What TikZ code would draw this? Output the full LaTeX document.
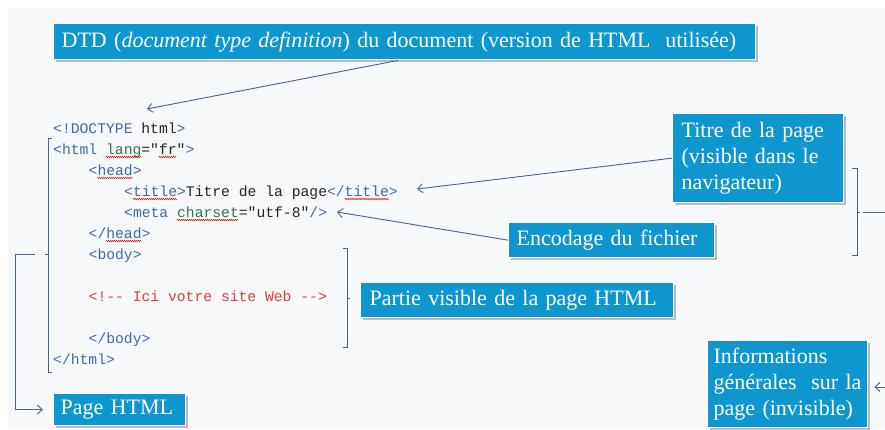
\documentclass[tikz,border=0pt]{standalone}
\usepackage{fontspec}
\setmainfont{Liberation Serif}
\setmonofont{Liberation Mono}
\usetikzlibrary{arrows.meta,shadows,decorations.pathmorphing,calc}
\definecolor{boxblue}{RGB}{14,151,206}
\definecolor{linec}{RGB}{68,100,148}
\definecolor{tagc}{RGB}{62,105,165}
\definecolor{attrc}{RGB}{55,115,85}
\definecolor{txtc}{RGB}{35,35,35}
\definecolor{commc}{RGB}{225,60,60}
\definecolor{bgc}{RGB}{247,248,249}
\newcommand\tg[1]{\textcolor{tagc}{#1}}
\newcommand\atr[1]{\textcolor{attrc}{#1}}
\newcommand\tx[1]{\textcolor{txtc}{#1}}
\newlength\dtdpre
\newlength\dtdword
\begin{document}
\begin{tikzpicture}[x=1pt,y=-1pt,
  bbox/.style={fill=boxblue, draw=white, line width=1.3pt, text=white,
    font=\fontsize{22}{26}\selectfont, inner xsep=8pt, inner ysep=0pt,
    align=left, anchor=north west,
    drop shadow={shadow xshift=2pt, shadow yshift=-2.5pt, opacity=0.35, fill=black!70}},
  code/.style={anchor=base west, inner sep=0pt, font=\fontsize{14.7}{17}\selectfont\ttfamily, text=tagc},
  conn/.style={draw=linec, line width=0.9pt},
  arr/.style={conn, -{Straight Barb[length=5pt,width=9pt]}},
  brk/.style={draw=linec, line width=0.9pt},
  spell/.style={draw=red!85!black, line width=0.45pt, decorate,
    decoration={zigzag, segment length=2pt, amplitude=0.7pt}}
]
\useasboundingbox (0,0) rectangle (885,429);
\fill[white] (0,0) rectangle (885,429);
\fill[bgc] (8,8) rectangle (885,429);

% boxes
\node[bbox, minimum width=702pt, minimum height=36pt, text width=686pt] (dtd) at (53,23)
  {DTD (\textit{document type definition}) du document (version de HTML\ \ utilisée)};
\node[bbox, minimum width=169pt, minimum height=89pt, text width=153pt, inner xsep=9pt] (titre) at (672,113)
  {\mbox{Titre de la page}\\\mbox{(visible dans le}\\\mbox{navigateur)}};
\node[bbox, minimum width=206pt, minimum height=35pt, text width=190pt] (encod) at (508,222)
  {Encodage du fichier};
\node[bbox, minimum width=313pt, minimum height=35pt, text width=295pt, inner xsep=9pt] (partie) at (360,282)
  {Partie visible de la page HTML};
\node[bbox, minimum width=132pt, minimum height=32pt, text width=118pt, inner xsep=7pt] (page) at (53,393)
  {Page HTML};
\node[bbox, minimum width=160pt, minimum height=87pt, text width=148pt, inner xsep=6pt] (infos) at (707,340)
  {\mbox{Informations}\\\mbox{générales\ \ sur la}\\\mbox{page (invisible)}};

% code lines
\node[code] (l0) at (53,133) {<!DOCTYPE \tx{html}>};
\node[code] (l1) at (53,154) {<html \atr{lang}\tx{="fr"}>};
\node[code] (l2) at (88.5,175) {<head>};
\node[code] (l3) at (124,196) {<title>\tx{Titre de la page}</title>};
\node[code] (l4) at (124,217) {<meta \atr{charset}\tx{="utf-8"}/>};
\node[code] (l5) at (88.5,238) {</head>};
\node[code] (l6) at (88.5,259) {<body>};
\node[code, text=commc] (l8) at (88.5,301) {<!-- Ici votre site Web -->};
\node[code] (l10) at (88.5,343) {</body>};
\node[code] (l11) at (53,364) {</html>};

% spell-check underlines
\settowidth\dtdpre{\fontsize{22}{26}\selectfont DTD (\textit{document type }}
\settowidth\dtdword{\fontsize{22}{26}\selectfont\textit{definition}}
\draw[spell] ([xshift=8pt+\dtdpre, yshift=-3pt]dtd.base west) -- ++(\dtdword,0pt);
\draw[spell] (105.9,157) -- (141.2,157);
\draw[spell] (158.8,157) -- (176.5,157);
\draw[spell] (97.3,178) -- (132.6,178);
\draw[spell] (132.8,199) -- (176.9,199);
\draw[spell] (344.5,199) -- (388.6,199);
\draw[spell] (176.9,220) -- (238.7,220);
\draw[spell] (106.1,241) -- (141.4,241);

% brackets
\draw[brk] (52,138) -- (48,138) -- (48,372) -- (52,372);
\draw[brk] (48,254) -- (45,254);
\draw[brk] (343,248) -- (347,248) -- (347,347) -- (343,347);
\draw[brk] (347,298) -- (350,298);
\draw[brk] (852,168) -- (857,168) -- (857,255) -- (852,255);
\draw[brk] (857,212) -- (860,212);

% connectors
\coordinate (cdoctype) at (147,109);
\coordinate (ctitle) at (417,189);
\coordinate (cmeta) at (337,212);
\coordinate (brL) at (35,254);
\coordinate (brR) at (863,212);
\coordinate (brRfree) at (885,212);
\coordinate (infofree) at (885,387);
\draw[arr] ([xshift=-6pt]dtd.south) -- (cdoctype);
\draw[arr] (titre.west) -- (ctitle);
\draw[arr] (encod.west) -- (cmeta);
\draw[arr] (brL) -- (15,254) |- ([xshift=-10pt]page.west);
\draw[conn] (brR) -- (brRfree);
\draw[arr, shorten >=6pt] (infofree) -- (infofree -| infos.east);
\end{tikzpicture}
\end{document}
